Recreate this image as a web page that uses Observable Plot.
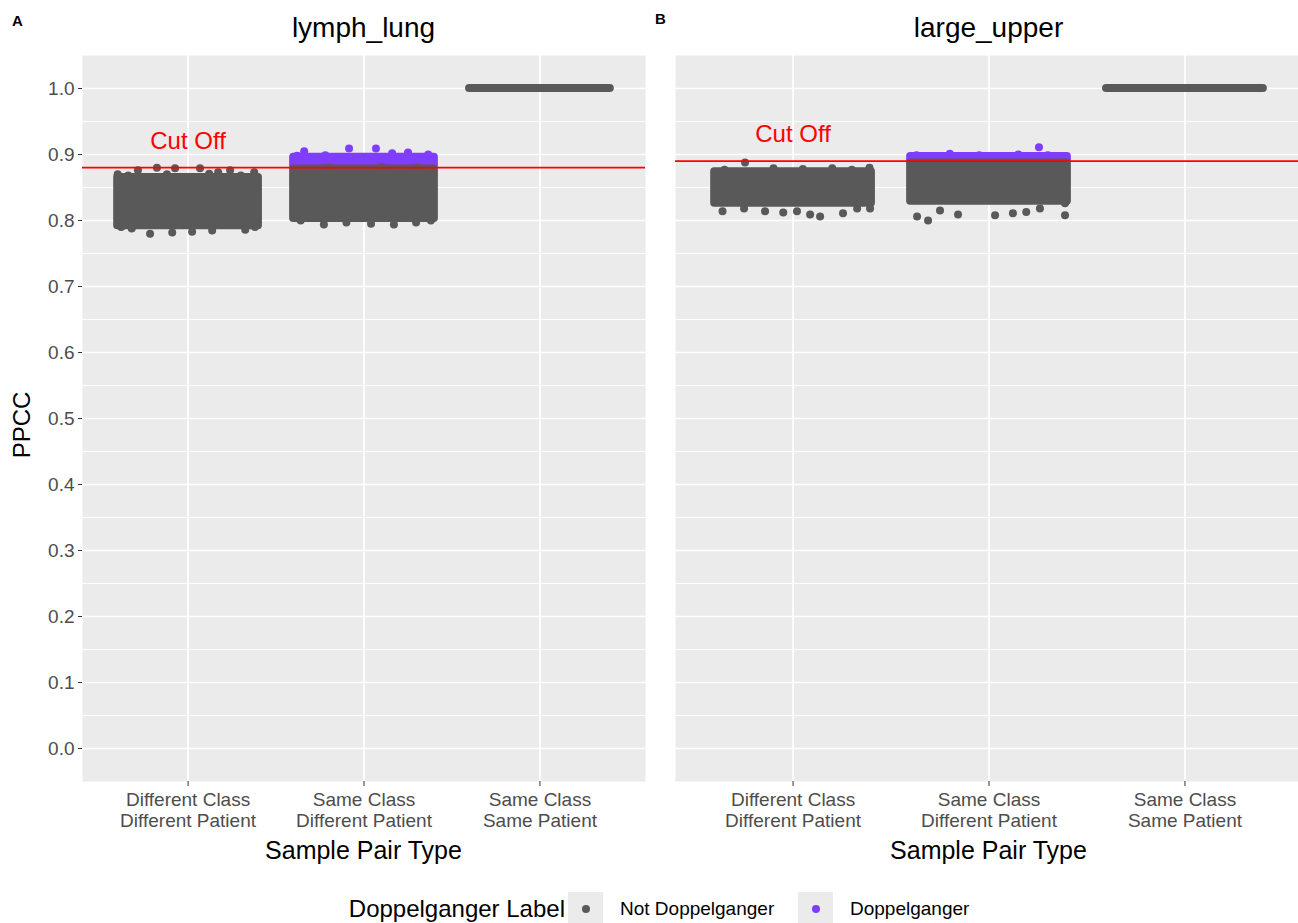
<!DOCTYPE html>
<html><head><meta charset="utf-8">
<script src="https://cdn.jsdelivr.net/npm/d3@7"></script>
<script src="https://cdn.jsdelivr.net/npm/@observablehq/plot@0.6"></script>
<style>
body{margin:0;background:#fff;font-family:"Liberation Sans",Arial,sans-serif;}
#wrap{position:relative;width:1298px;height:923px;overflow:hidden;background:#fff;}
.abs{position:absolute;white-space:nowrap;}
svg{overflow:visible;}
</style></head><body><div id="wrap"></div>
<script>
// ---------- data ----------
const categories = ["Different Class\nDifferent Patient", "Same Class\nDifferent Patient", "Same Class\nSame Patient"];
const panelNames = ["lymph_lung", "large_upper"];
const panelTags = ["A", "B"];
const cutoffs = [0.88, 0.89];
const labels = ["Not Doppelganger", "Doppelganger"];
const colors = ["#595959", "#7F3DFF"];
const yTicks = [0, 0.1, 0.2, 0.3, 0.4, 0.5, 0.6, 0.7, 0.8, 0.9, 1.0];
const yMinor = [0.05, 0.15, 0.25, 0.35, 0.45, 0.55, 0.65, 0.75, 0.85, 0.95];

// dense cores of the jittered point clouds: [panel, category index, label, low PPCC, high PPCC]
const cores = [
  ["lymph_lung", 0, "Not Doppelganger", 0.792, 0.865],
  ["lymph_lung", 1, "Doppelganger", 0.882, 0.896],
  ["lymph_lung", 1, "Not Doppelganger", 0.803, 0.878],
  ["lymph_lung", 2, "Not Doppelganger", 1.0, 1.0],
  ["large_upper", 0, "Not Doppelganger", 0.826, 0.874],
  ["large_upper", 1, "Doppelganger", 0.891, 0.897],
  ["large_upper", 1, "Not Doppelganger", 0.829, 0.887],
  ["large_upper", 2, "Not Doppelganger", 1.0, 1.0]
];

// individual points on the ragged edges: [panel, category index, jitter offset, PPCC, label]
const edgePoints = [
  // lymph_lung, Different Class Different Patient
  ["lymph_lung", 0, -0.40, 0.870, "Not Doppelganger"], ["lymph_lung", 0, -0.34, 0.868, "Not Doppelganger"],
  ["lymph_lung", 0, -0.285, 0.876, "Not Doppelganger"], ["lymph_lung", 0, -0.177, 0.880, "Not Doppelganger"],
  ["lymph_lung", 0, -0.12, 0.870, "Not Doppelganger"], ["lymph_lung", 0, -0.074, 0.879, "Not Doppelganger"],
  ["lymph_lung", 0, 0.068, 0.879, "Not Doppelganger"], ["lymph_lung", 0, 0.12, 0.871, "Not Doppelganger"],
  ["lymph_lung", 0, 0.171, 0.873, "Not Doppelganger"], ["lymph_lung", 0, 0.239, 0.876, "Not Doppelganger"],
  ["lymph_lung", 0, 0.30, 0.868, "Not Doppelganger"], ["lymph_lung", 0, 0.376, 0.873, "Not Doppelganger"],
  ["lymph_lung", 0, -0.38, 0.790, "Not Doppelganger"], ["lymph_lung", 0, -0.32, 0.788, "Not Doppelganger"],
  ["lymph_lung", 0, -0.216, 0.780, "Not Doppelganger"], ["lymph_lung", 0, -0.09, 0.782, "Not Doppelganger"],
  ["lymph_lung", 0, 0.023, 0.783, "Not Doppelganger"], ["lymph_lung", 0, 0.137, 0.785, "Not Doppelganger"],
  ["lymph_lung", 0, 0.325, 0.786, "Not Doppelganger"], ["lymph_lung", 0, 0.38, 0.790, "Not Doppelganger"],
  // lymph_lung, Same Class Different Patient
  ["lymph_lung", 1, -0.38, 0.898, "Doppelganger"], ["lymph_lung", 1, -0.34, 0.905, "Doppelganger"],
  ["lymph_lung", 1, -0.22, 0.899, "Doppelganger"], ["lymph_lung", 1, -0.085, 0.909, "Doppelganger"],
  ["lymph_lung", 1, 0.068, 0.909, "Doppelganger"], ["lymph_lung", 1, 0.16, 0.902, "Doppelganger"],
  ["lymph_lung", 1, 0.25, 0.903, "Doppelganger"], ["lymph_lung", 1, 0.365, 0.900, "Doppelganger"],
  ["lymph_lung", 1, 0.39, 0.896, "Doppelganger"],
  ["lymph_lung", 1, -0.20, 0.880, "Not Doppelganger"], ["lymph_lung", 1, 0.10, 0.881, "Not Doppelganger"],
  ["lymph_lung", 1, 0.30, 0.880, "Not Doppelganger"],
  ["lymph_lung", 1, -0.36, 0.800, "Not Doppelganger"], ["lymph_lung", 1, -0.228, 0.794, "Not Doppelganger"],
  ["lymph_lung", 1, -0.10, 0.797, "Not Doppelganger"], ["lymph_lung", 1, 0.04, 0.795, "Not Doppelganger"],
  ["lymph_lung", 1, 0.17, 0.794, "Not Doppelganger"], ["lymph_lung", 1, 0.296, 0.797, "Not Doppelganger"],
  ["lymph_lung", 1, 0.38, 0.800, "Not Doppelganger"],
  // large_upper, Different Class Different Patient
  ["large_upper", 0, -0.35, 0.877, "Not Doppelganger"], ["large_upper", 0, -0.245, 0.888, "Not Doppelganger"],
  ["large_upper", 0, -0.10, 0.879, "Not Doppelganger"], ["large_upper", 0, 0.05, 0.878, "Not Doppelganger"],
  ["large_upper", 0, 0.20, 0.879, "Not Doppelganger"], ["large_upper", 0, 0.30, 0.877, "Not Doppelganger"],
  ["large_upper", 0, 0.39, 0.880, "Not Doppelganger"],
  ["large_upper", 0, -0.36, 0.814, "Not Doppelganger"], ["large_upper", 0, -0.25, 0.818, "Not Doppelganger"],
  ["large_upper", 0, -0.143, 0.814, "Not Doppelganger"], ["large_upper", 0, -0.05, 0.812, "Not Doppelganger"],
  ["large_upper", 0, 0.02, 0.814, "Not Doppelganger"], ["large_upper", 0, 0.087, 0.809, "Not Doppelganger"],
  ["large_upper", 0, 0.138, 0.806, "Not Doppelganger"], ["large_upper", 0, 0.255, 0.811, "Not Doppelganger"],
  ["large_upper", 0, 0.327, 0.818, "Not Doppelganger"], ["large_upper", 0, 0.393, 0.818, "Not Doppelganger"],
  // large_upper, Same Class Different Patient
  ["large_upper", 1, -0.37, 0.899, "Doppelganger"], ["large_upper", 1, -0.20, 0.901, "Doppelganger"],
  ["large_upper", 1, -0.05, 0.899, "Doppelganger"], ["large_upper", 1, 0.15, 0.900, "Doppelganger"],
  ["large_upper", 1, 0.255, 0.911, "Doppelganger"], ["large_upper", 1, 0.30, 0.899, "Doppelganger"],
  ["large_upper", 1, 0.39, 0.897, "Doppelganger"],
  ["large_upper", 1, -0.367, 0.806, "Not Doppelganger"], ["large_upper", 1, -0.311, 0.800, "Not Doppelganger"],
  ["large_upper", 1, -0.25, 0.815, "Not Doppelganger"], ["large_upper", 1, -0.158, 0.809, "Not Doppelganger"],
  ["large_upper", 1, 0.031, 0.808, "Not Doppelganger"], ["large_upper", 1, 0.122, 0.811, "Not Doppelganger"],
  ["large_upper", 1, 0.19, 0.813, "Not Doppelganger"], ["large_upper", 1, 0.26, 0.818, "Not Doppelganger"],
  ["large_upper", 1, 0.388, 0.808, "Not Doppelganger"], ["large_upper", 1, 0.388, 0.826, "Not Doppelganger"]
];

// ---------- build ----------
const JITTER = 0.4;
const coreRows = cores.map(([panel, cat, label, lo, hi]) => ({panel, cat, label, lo, hi}));
const pointRows = edgePoints.map(([panel, cat, dx, ppcc, label]) => ({panel, cat, x: cat + dx, ppcc, label}));
const wrap = document.getElementById("wrap");
const FONT = '"Liberation Sans", Arial, sans-serif';

function addText(txt, css) {
  const d = document.createElement("div");
  d.className = "abs";
  d.textContent = txt;
  Object.assign(d.style, css);
  wrap.appendChild(d);
  return d;
}

const layouts = [
  {left: 0, width: 660, marginLeft: 82, marginRight: 15},
  {left: 660, width: 642, marginLeft: 15, marginRight: 0}
];

panelNames.forEach((name, pi) => {
  const L = layouts[pi];
  const cr = coreRows.filter(d => d.panel === name);
  const pr = pointRows.filter(d => d.panel === name);
  const layer = lab => [
    Plot.rect(cr.filter(d => d.label === lab), {
      x1: d => d.cat - JITTER, x2: d => d.cat + JITTER, y1: "lo", y2: "hi",
      fill: "label", inset: -4, rx: 4
    }),
    Plot.dot(pr.filter(d => d.label === lab), {x: "x", y: "ppcc", fill: "label", r: 4, stroke: null})
  ];
  const marks = [
    Plot.frame({fill: "#EBEBEB", stroke: null}),
    Plot.gridY(yMinor, {stroke: "white", strokeOpacity: 1, strokeWidth: 0.9}),
    Plot.gridY(yTicks, {stroke: "white", strokeOpacity: 1, strokeWidth: 1.7}),
    Plot.gridX([0, 1, 2], {stroke: "white", strokeOpacity: 1, strokeWidth: 1.7}),
    ...layer("Doppelganger"),
    ...layer("Not Doppelganger"),
    Plot.ruleY([cutoffs[pi]], {stroke: "red", strokeWidth: 1.8}),
    Plot.text([{x: 0, y: cutoffs[pi] + 0.04}], {x: "x", y: "y", text: () => "Cut Off", fill: "red", fontSize: 24}),
    Plot.axisX([0, 1, 2], {
      tickFormat: i => categories[i], tickSize: 5, tickPadding: 5, fontSize: 19, lineHeight: 1.1,
      label: null, color: "#4D4D4D", stroke: "#333"
    })
  ];
  if (pi === 0) {
    marks.push(Plot.axisY(yTicks, {
      tickFormat: d3.format(".1f"), tickSize: 4, tickPadding: 4, fontSize: 19,
      label: null, color: "#4D4D4D", stroke: "#333"
    }));
  }
  const chart = Plot.plot({
    width: L.width, height: 880,
    marginTop: 55, marginBottom: 99, marginLeft: L.marginLeft, marginRight: L.marginRight,
    style: {fontFamily: FONT, background: "transparent", overflow: "visible"},
    x: {domain: [-0.6, 2.6], axis: null},
    y: {domain: [-0.05, 1.05], axis: null},
    color: {domain: labels, range: colors},
    marks
  });
  chart.style.position = "absolute";
  chart.style.left = L.left + "px";
  chart.style.top = "0px";
  wrap.appendChild(chart);

  const panelLeft = L.left + L.marginLeft;
  const center = panelLeft + (0.6 + 1) / 3.2 * (L.width - L.marginLeft - L.marginRight);
  addText(name, {left: (center - 200) + "px", width: "400px", textAlign: "center", top: "12px",
    fontSize: "28px", color: "#000", fontFamily: FONT});
  addText("Sample Pair Type", {left: (center - 200) + "px", width: "400px", textAlign: "center", top: "836px",
    fontSize: "25px", color: "#000", fontFamily: FONT});
  addText(panelTags[pi], {left: (pi === 0 ? 12 : 655) + "px", top: (pi === 0 ? 12 : 10) + "px",
    fontSize: "15px", fontWeight: "bold", color: "#000", fontFamily: FONT});
});

// y-axis title
addText("PPCC", {left: "-28px", width: "100px", textAlign: "center", top: "411px", fontSize: "24px",
  color: "#000", transform: "rotate(-90deg)", fontFamily: FONT});

// legend
addText("Doppelganger Label", {left: "265px", width: "300px", textAlign: "right", top: "895px",
  fontSize: "24px", color: "#000", fontFamily: FONT});
const keys = [{x: 568, tx: 620}, {x: 798, tx: 850}];
labels.forEach((lab, i) => {
  const box = document.createElement("div");
  box.className = "abs";
  Object.assign(box.style, {left: keys[i].x + "px", top: "892px", width: "35px", height: "35px", background: "#EBEBEB"});
  const dot = document.createElement("div");
  Object.assign(dot.style, {position: "absolute", left: "13.5px", top: "12.5px", width: "8px", height: "8px",
    borderRadius: "50%", background: colors[i]});
  box.appendChild(dot);
  wrap.appendChild(box);
  addText(lab, {left: keys[i].tx + "px", top: "898px", fontSize: "19px", color: "#000", fontFamily: FONT});
});
</script></body></html>
